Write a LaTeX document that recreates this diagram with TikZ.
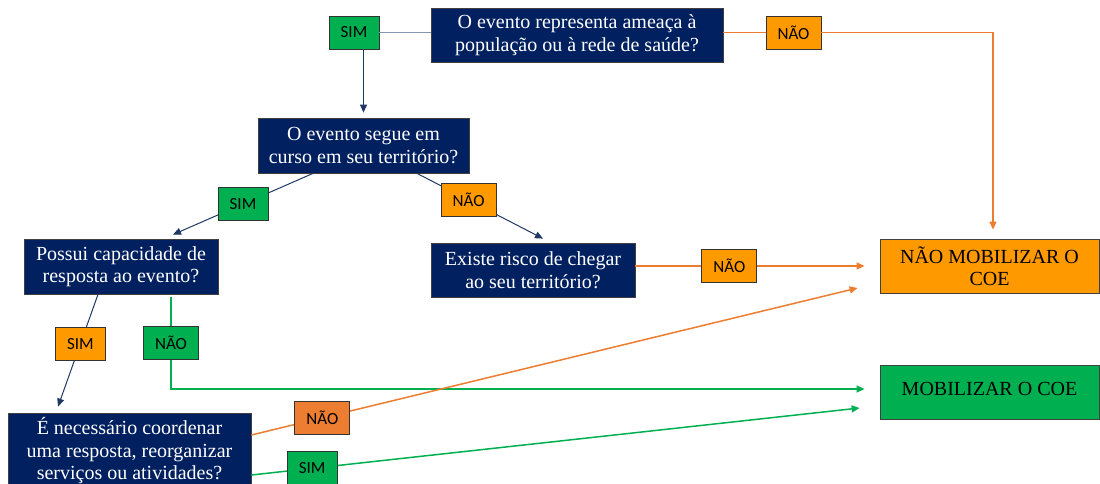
\documentclass[tikz,border=0pt]{standalone}
\usepackage{fontspec}
\setmainfont{Liberation Serif}
\newfontfamily\tagfont{Carlito}
\usetikzlibrary{arrows.meta,calc,positioning}
\definecolor{navy}{HTML}{002060}
\definecolor{navyarrow}{HTML}{203864}
\definecolor{slate}{HTML}{8497B0}
\definecolor{boxgray}{HTML}{404040}
\definecolor{taggreen}{HTML}{00B050}
\definecolor{tagorange}{HTML}{FF9900}
\definecolor{tagdark}{HTML}{ED7D31}
\definecolor{lineorange}{HTML}{ED7D31}
\definecolor{linegreen}{HTML}{00B050}
\tikzstyle{quest} = [draw=boxgray, line width=0.8pt, fill=navy, text=white, align=center, inner sep=0pt, minimum height=54pt, font=\fontsize{20}{22.5}\selectfont]
\tikzstyle{result} = [draw=boxgray, line width=0.8pt, text=black, align=center, inner sep=0pt, minimum width=219pt, minimum height=54pt, font=\fontsize{20}{22.5}\selectfont]
\tikzstyle{tag} = [draw=black!80, line width=0.8pt, text=black, inner sep=0pt, minimum height=33pt, font=\tagfont\fontsize{17}{19}\selectfont]
\tikzstyle{simtag} = [tag, minimum width=50pt]
\tikzstyle{naotag} = [tag, minimum width=55pt]
\tikzstyle{tip} = [-{Triangle[length=8pt, width=7pt]}]
\tikzstyle{slateline} = [draw, slate, line width=1.2pt]
\tikzstyle{navyline} = [draw, navyarrow, line width=1pt, tip]
\tikzstyle{orangeline} = [draw, lineorange, line width=1.5pt]
\tikzstyle{greenline} = [draw, linegreen, line width=1.5pt]

\begin{document}
\begin{tikzpicture}[x=1pt, y=-1pt]
	\useasboundingbox (0,0) rectangle (1100,484);
	\node[quest, minimum width=292pt](q1) at (577,35){O evento representa ameaça à\\população ou à rede de saúde?};
	\node[quest, minimum width=211pt, minimum height=55pt](q2) at (363.5,145.5){O evento segue em\\curso em seu território?};
	\node[quest, minimum width=194pt, minimum height=55pt](q3) at (121,266.5){Possui capacidade de\\resposta ao evento?};
	\node[quest, minimum width=204pt](q4) at (533,270){Existe risco de chegar\\ao seu território?};
	\node[quest, minimum width=243pt, minimum height=76pt](q5) at (129.5,451){É necessário coordenar\\uma resposta, reorganizar\\serviços ou atividades?};
	\node[result, fill=tagorange](nmob) at (989.5,266){NÃO MOBILIZAR O\\COE};
	\node[result, fill=taggreen](mob) at (989.5,392){\raisebox{6pt}{MOBILIZAR O COE}};
	\node[simtag, fill=taggreen](s1) at (354,32.5){SIM};
	\node[naotag, fill=tagorange](n1) at (793.5,32.5){NÃO};

	\path [slateline] (s1.east) -- (s1 -| q1.west);
	\path [navyline] (s1.south -| q2.north) -- ([yshift=5pt]q2.north);
	\path [navyline] ([xshift=-50.5pt]q2.south) -- node[simtag, fill=taggreen](s2){SIM} ($(q3.north)+(52,-4)$);
	\path [navyline] ([xshift=53.5pt]q2.south) -- node[naotag, fill=tagorange, pos=0.41](n2){NÃO} ($(q4.north)+(10,-4)$);
	\path [navyline] ([xshift=-23pt]q3.south) -- node[simtag, fill=tagorange, pos=0.44](s4){SIM} ($(q5.north)+(-71.5,-6)$);
	\draw [orangeline] (q1.east |- n1) -- (n1.west);
	\draw [orangeline, tip] (n1.east) -| ([xshift=3.5pt, yshift=9pt]nmob.north);
	\draw [orangeline, tip] (q4.east |- nmob.west) -- node[naotag, fill=tagorange, pos=0.41](n3){NÃO} ([xshift=-15pt]nmob.west);
	\draw [greenline, tip] ([xshift=50pt, yshift=-3pt]q3.south) |- node[naotag, fill=taggreen, pos=0.25](n5){NÃO} ([xshift=-15pt, yshift=3pt]mob.west);
	\draw [orangeline, tip] ([yshift=16pt]q5.east) -- node[naotag, fill=tagdark, pos=0.117](n4){NÃO} ([xshift=-22pt, yshift=-22pt]nmob.west);
	\draw [greenline, tip] ([yshift=-24pt]q5.east) -- node[simtag, fill=taggreen, pos=0.1](s5){SIM} ([xshift=-20pt, yshift=-16pt]mob.west);
\end{tikzpicture}
\end{document}
